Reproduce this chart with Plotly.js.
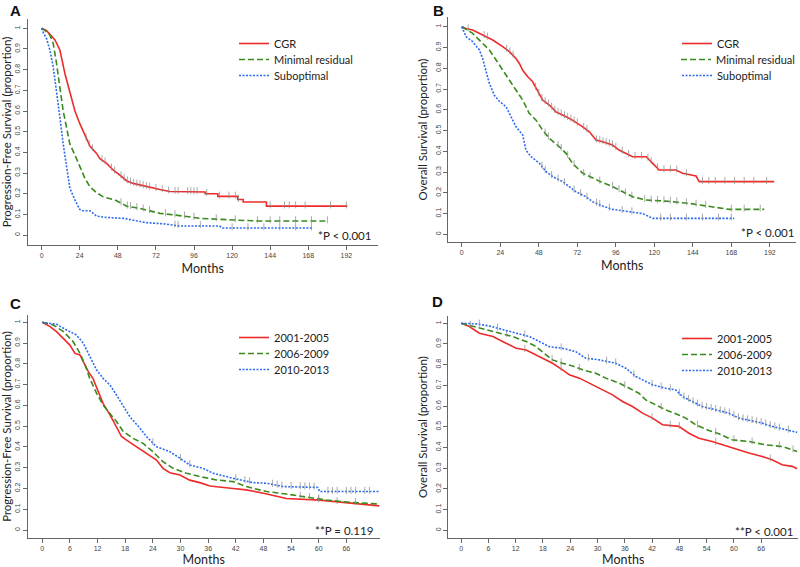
<!DOCTYPE html>
<html>
<head>
<meta charset="utf-8">
<script src="https://cdn.plot.ly/plotly-3.0.1.min.js"></script>
<style>html,body{margin:0;padding:0;background:#fff;}#chart{width:800px;height:567px;}</style>
</head>
<body>
<div id="chart"></div>
<script>
// ---------- Panel A: Progression-free survival by residual disease ----------
const a_cgr_t = [0, 3, 8.4, 11.5, 14.7, 16.8, 18.9, 21, 24, 27.3, 30.4, 34.6, 36.7, 41, 45, 49.3, 53.5, 57.7, 66, 74.5, 80.8, 95.5, 103, 103, 111, 111, 123.5, 123.5, 127, 127, 141.6, 141.6, 192.6];
const a_cgr_s = [1, 0.99, 0.944, 0.895, 0.78, 0.72, 0.65, 0.60, 0.54, 0.48, 0.43, 0.395, 0.37, 0.347, 0.315, 0.29, 0.263, 0.25, 0.234, 0.22, 0.211, 0.208, 0.208, 0.2, 0.2, 0.187, 0.187, 0.172, 0.172, 0.16, 0.16, 0.14, 0.14];
const a_min_t = [0, 2, 5.2, 7.3, 9.4, 11.5, 13.6, 15.7, 17.8, 21, 24, 27.3, 30.4, 34.6, 38.8, 46, 49.3, 53.5, 62, 70, 74.5, 87, 99.7, 120.6, 137, 180];
const a_min_s = [1, 0.99, 0.968, 0.927, 0.83, 0.72, 0.60, 0.52, 0.44, 0.387, 0.33, 0.274, 0.234, 0.205, 0.185, 0.17, 0.158, 0.14, 0.129, 0.113, 0.105, 0.094, 0.081, 0.073, 0.068, 0.068];
const a_sub_t = [0, 1, 3.1, 5.2, 7.3, 9.4, 11.5, 13.6, 15.7, 17.8, 21, 24, 26, 30.4, 34.6, 41, 51.4, 57.7, 66, 78.7, 87, 112, 114, 171];
const a_sub_s = [1, 0.98, 0.95, 0.895, 0.815, 0.70, 0.57, 0.44, 0.33, 0.226, 0.17, 0.124, 0.118, 0.118, 0.092, 0.085, 0.081, 0.073, 0.06, 0.053, 0.044, 0.044, 0.034, 0.034];
const a_cgr_cens = [28, 30, 32, 38, 40, 44, 46, 50, 52, 54, 56, 58, 60, 62, 64, 66, 68, 72, 76, 80, 84, 86, 92, 94, 96, 98, 104, 112, 118, 122, 124, 144, 153, 156, 160, 166, 182, 192];
const a_min_cens = [50, 54, 56, 60, 64, 68, 78, 84, 90, 96, 110, 122, 136, 144, 150, 160, 170, 180];
const a_sub_cens = [84, 86, 100, 120, 130, 140, 150, 160, 170];

// ---------- Panel B: Overall survival by residual disease ----------
const b_cgr_t = [0, 3, 6.8, 13, 19.3, 25.5, 29.7, 33.8, 35.9, 38, 41, 44.2, 47.3, 50.4, 54.6, 58.7, 62.9, 69, 75.4, 79.5, 83.7, 87.8, 94, 98, 106.5, 115, 119, 123, 133.5, 137.6, 146, 148, 194.7];
const b_cgr_s = [1, 0.99, 0.984, 0.96, 0.936, 0.904, 0.88, 0.847, 0.823, 0.79, 0.76, 0.735, 0.687, 0.647, 0.623, 0.59, 0.575, 0.55, 0.518, 0.494, 0.454, 0.446, 0.43, 0.406, 0.374, 0.374, 0.342, 0.31, 0.31, 0.294, 0.281, 0.254, 0.254];
const b_min_t = [0, 6.8, 13, 17.2, 21.4, 25.5, 29.7, 33.8, 38, 42, 46.3, 50.4, 54.6, 60.8, 65, 69, 75.4, 81.6, 87.8, 94, 100, 106.5, 114.8, 127, 141.8, 156, 166.7, 188.5];
const b_min_s = [1, 0.968, 0.92, 0.888, 0.84, 0.79, 0.743, 0.695, 0.647, 0.583, 0.55, 0.502, 0.462, 0.422, 0.39, 0.342, 0.294, 0.27, 0.249, 0.23, 0.205, 0.181, 0.165, 0.16, 0.149, 0.133, 0.12, 0.12];
const b_sub_t = [0, 2.7, 6.8, 11, 13, 15, 17.2, 20.3, 23.5, 27.6, 30.7, 33.8, 38, 40, 43.2, 48.4, 52.5, 56.7, 62.9, 67, 71.2, 77.4, 81.6, 87.8, 94, 112.7, 119, 169.8];
const b_sub_s = [1, 0.952, 0.928, 0.888, 0.847, 0.79, 0.727, 0.67, 0.64, 0.615, 0.567, 0.518, 0.478, 0.406, 0.374, 0.342, 0.302, 0.278, 0.254, 0.23, 0.205, 0.181, 0.157, 0.136, 0.12, 0.1, 0.077, 0.077];
const b_cgr_cens = [4, 14, 16, 28, 30, 32, 46, 48, 50, 52, 54, 56, 58, 60, 62, 64, 66, 68, 70, 72, 76, 78, 84, 86, 88, 90, 92, 94, 96, 100, 104, 108, 112, 116, 118, 122, 126, 130, 134, 140, 150, 154, 158, 164, 170, 176, 182, 190];
const b_min_cens = [52, 54, 60, 62, 66, 70, 76, 80, 86, 94, 98, 102, 106, 114, 118, 122, 126, 130, 134, 140, 146, 152, 168, 176, 186];
const b_sub_cens = [50, 52, 56, 60, 64, 70, 74, 78, 84, 86, 92, 100, 106, 124, 130, 140, 150, 160, 168];

// ---------- Panel C: Progression-free survival by period ----------
const c_p1_t = [0, 1.7, 3.1, 4.6, 6, 7.1, 8.2, 8.9, 10, 11, 12.1, 13.2, 14.7, 16.1, 17.2, 18.3, 20.5, 22.6, 24.8, 26.2, 27.7, 29.9, 32, 34.2, 36.4, 41.4, 44.3, 48, 50.8, 53, 60.2, 63.8, 67.4, 73.2];
const c_p1_s = [1, 0.979, 0.955, 0.923, 0.89, 0.85, 0.843, 0.81, 0.762, 0.73, 0.674, 0.61, 0.554, 0.498, 0.45, 0.433, 0.401, 0.37, 0.337, 0.297, 0.276, 0.265, 0.24, 0.228, 0.212, 0.2, 0.193, 0.177, 0.164, 0.152, 0.144, 0.136, 0.128, 0.116];
const c_p2_t = [0, 2.4, 4.6, 6.7, 8.2, 9.3, 10.3, 11.8, 13.2, 14.7, 16.1, 17.6, 19.7, 21.9, 24, 26.2, 28.4, 31.3, 34.2, 37.8, 41.4, 44.3, 48.7, 53, 57.3, 61.7, 67.4, 73.2];
const c_p2_s = [1, 0.987, 0.955, 0.907, 0.85, 0.795, 0.73, 0.658, 0.602, 0.562, 0.522, 0.474, 0.441, 0.417, 0.377, 0.329, 0.297, 0.273, 0.257, 0.241, 0.233, 0.209, 0.185, 0.173, 0.157, 0.144, 0.132, 0.125];
const c_p3_t = [0, 3.1, 5.3, 7.4, 8.9, 10.3, 11.8, 13.2, 14.7, 16.1, 17.6, 19, 21.2, 22.6, 24.8, 27.7, 29.9, 32, 34.9, 37.1, 41.4, 45.8, 48.7, 52.3, 59.8, 60.2, 73.2];
const c_p3_s = [1, 0.99, 0.963, 0.939, 0.9, 0.835, 0.77, 0.73, 0.698, 0.65, 0.594, 0.546, 0.49, 0.45, 0.401, 0.377, 0.345, 0.313, 0.297, 0.273, 0.249, 0.228, 0.225, 0.209, 0.205, 0.185, 0.185];
const c_p1_cens = [60, 64];
const c_p2_cens = [56, 58, 60, 68];
const c_p3_cens = [24, 30, 32, 42, 44, 45, 50, 51, 52, 54, 56, 57, 58, 59, 62, 63, 64, 66, 67, 68, 70, 71];

// ---------- Panel D: Overall survival by period ----------
const d_p1_t = [0, 1.8, 4, 7, 9.1, 12.1, 14.3, 17.2, 20.1, 22.3, 23.8, 26, 28.9, 31.1, 33.3, 35.5, 37.7, 39.9, 42.1, 44.3, 47.9, 50.1, 52.3, 55.2, 57.4, 59.6, 61.1, 63.3, 66.2, 68.4, 70.6, 72.8, 73.9];
const d_p1_s = [1, 0.984, 0.952, 0.936, 0.912, 0.879, 0.871, 0.839, 0.807, 0.775, 0.751, 0.735, 0.703, 0.678, 0.654, 0.622, 0.598, 0.566, 0.542, 0.51, 0.502, 0.469, 0.445, 0.429, 0.413, 0.397, 0.386, 0.373, 0.357, 0.341, 0.317, 0.309, 0.297];
const d_p2_t = [0, 3.3, 6.2, 8.4, 11.3, 14.3, 16.5, 18.7, 20.1, 22.3, 24.5, 26.7, 29.6, 31.8, 34.8, 37, 39.1, 40.6, 42.8, 45, 47.2, 49.4, 51.6, 54.5, 56.7, 59.6, 63.3, 66.9, 70.6, 73.9];
const d_p2_s = [1, 0.981, 0.968, 0.952, 0.936, 0.912, 0.887, 0.847, 0.823, 0.807, 0.794, 0.775, 0.759, 0.735, 0.711, 0.686, 0.662, 0.63, 0.606, 0.582, 0.563, 0.542, 0.51, 0.482, 0.466, 0.437, 0.429, 0.413, 0.405, 0.381];
const d_p3_t = [0, 3.3, 6.2, 9.1, 12.1, 15, 17.2, 19.4, 22.3, 25.2, 27.4, 30.4, 34, 36.2, 38.4, 40.6, 42.1, 45, 47.2, 48.7, 50.8, 53, 56, 58.9, 61.1, 63.3, 66.2, 68.4, 70.6, 73.9];
const d_p3_s = [1, 0.997, 0.987, 0.968, 0.952, 0.936, 0.912, 0.887, 0.879, 0.863, 0.831, 0.823, 0.807, 0.783, 0.743, 0.719, 0.703, 0.686, 0.678, 0.646, 0.622, 0.598, 0.582, 0.566, 0.542, 0.531, 0.518, 0.502, 0.489, 0.473];
const d_p1_cens = [14, 22, 42, 46, 48, 56, 68];
const d_p2_cens = [2, 10, 20, 22, 26, 36, 44, 52, 56, 60, 64, 70, 73];
const d_p3_cens = [4, 8, 14, 22, 28, 32, 34, 38, 42, 44, 46, 48, 49, 50, 51, 52, 53, 54, 55, 56, 57, 58, 59, 60, 61, 62, 63, 64, 65, 66, 67, 68, 69, 70, 72];

// ---------- labels ----------
const groupsResidual = ["CGR", "Minimal residual", "Suboptimal"];
const groupsPeriod = ["2001-2005", "2006-2009", "2010-2013"];
const ticksLong = [0, 24, 48, 72, 96, 120, 144, 168, 192];
const ticksShort = [0, 6, 12, 18, 24, 30, 36, 42, 48, 54, 60, 66];
const yTicks = [0, 0.1, 0.2, 0.3, 0.4, 0.5, 0.6, 0.7, 0.8, 0.9, 1];
const yTickText = ["0", "0.1", "0.2", "0.3", "0.4", "0.5", "0.6", "0.7", "0.8", "0.9", "1"];
const panelLabels = ["A", "B", "C", "D"];
const pValues = ["*P < 0.001", "*P < 0.001", "**P = 0.119", "**P < 0.001"];
const yTitles = ["Progression-Free Survival (proportion)", "Overall Survival (proportion)", "Progression-Free Survival (proportion)", "Overall Survival (proportion)"];

// ---------- styling ----------
const COLORS = ["#ee2b2b", "#3a8a1c", "#2b6bf0"];
const DASHES = ["solid", "6px,3px", "2px,1.5px"];
const FONT = "Lato, 'Open Sans', sans-serif";
const W = 800, H = 567;
function px(x) { return x / W; }
function py(y) { return 1 - y / H; }

function interp(t, s, x) {
  for (let i = 1; i < t.length; i++) {
    if (x <= t[i]) {
      if (t[i] === t[i - 1]) return s[i];
      const f = (x - t[i - 1]) / (t[i] - t[i - 1]);
      return s[i - 1] + f * (s[i] - s[i - 1]);
    }
  }
  return s[s.length - 1];
}

const traces = [];
const legends = {};
let legendCount = 0;
// legend anchor per panel: [left px, first-row top px]
const legendAnchor = [[234, 29], [677, 29], [234, 323], [677, 324]];
const ROW = 16;

function addCurves(panel, names, curves) {
  const ax = panel === 1 ? "" : String(panel);
  curves.forEach((c, i) => {
    legendCount++;
    const lid = legendCount === 1 ? "legend" : "legend" + legendCount;
    const [lx, ly] = legendAnchor[panel - 1];
    legends[lid] = {
      x: px(lx), y: py(ly + i * ROW), xanchor: "left", yanchor: "top", bgcolor: "rgba(0,0,0,0)",
      font: { family: FONT, size: 11, color: "#222" }, itemwidth: 30
    };
    traces.push({
      type: "scatter", mode: "lines", x: c.t, y: c.s, name: names[i],
      xaxis: "x" + ax, yaxis: "y" + ax, legend: lid,
      line: { color: COLORS[i], width: 1.6, dash: DASHES[i] },
      hoverinfo: "skip"
    });
    traces.push({
      type: "scatter", mode: "markers", x: c.c, y: c.c.map(v => interp(c.t, c.s, v) + 0.006),
      xaxis: "x" + ax, yaxis: "y" + ax, showlegend: false,
      marker: { symbol: "line-ns", size: 5, line: { color: "rgba(140,140,140,0.75)", width: 1 } },
      hoverinfo: "skip"
    });
  });
}
addCurves(1, groupsResidual, [
  { t: a_cgr_t, s: a_cgr_s, c: a_cgr_cens },
  { t: a_min_t, s: a_min_s, c: a_min_cens },
  { t: a_sub_t, s: a_sub_s, c: a_sub_cens }]);
addCurves(2, groupsResidual, [
  { t: b_cgr_t, s: b_cgr_s, c: b_cgr_cens },
  { t: b_min_t, s: b_min_s, c: b_min_cens },
  { t: b_sub_t, s: b_sub_s, c: b_sub_cens }]);
addCurves(3, groupsPeriod, [
  { t: c_p1_t, s: c_p1_s, c: c_p1_cens },
  { t: c_p2_t, s: c_p2_s, c: c_p2_cens },
  { t: c_p3_t, s: c_p3_s, c: c_p3_cens }]);
addCurves(4, groupsPeriod, [
  { t: d_p1_t, s: d_p1_s, c: d_p1_cens },
  { t: d_p2_t, s: d_p2_s, c: d_p2_cens },
  { t: d_p3_t, s: d_p3_s, c: d_p3_cens }]);

function xAxis(anchor, domain, range, ticks) {
  return {
    anchor: anchor, domain: domain, range: range, tickmode: "array", tickvals: ticks, ticktext: ticks.map(String),
    showline: true, linecolor: "#666", linewidth: 1, ticks: "outside", ticklen: 4, tickcolor: "#666",
    showgrid: false, zeroline: false, tickfont: { family: "Liberation Sans, Arial", size: 7, color: "#444" },
    title: { text: "Months", font: { family: FONT, size: 12.5, color: "#222" }, standoff: 5 }, fixedrange: true
  };
}
function yAxis(anchor, domain, range, title) {
  return {
    anchor: anchor, domain: domain, range: range, tickmode: "array", tickvals: yTicks, ticktext: yTickText, tickangle: -90,
    showline: true, linecolor: "#666", linewidth: 1, ticks: "outside", ticklen: 4, tickcolor: "#666",
    showgrid: false, zeroline: false, tickfont: { family: "Liberation Sans, Arial", size: 7, color: "#444" },
    title: { text: title, font: { family: FONT, size: 11.5, color: "#222" }, standoff: 4 }, fixedrange: true
  };
}

const annotations = [];
const letterPos = [[8, 10], [432, 10], [8, 303], [431, 301]];
panelLabels.forEach((l, i) => annotations.push({
  xref: "paper", yref: "paper", x: px(letterPos[i][0]), y: py(letterPos[i][1]), xanchor: "left", yanchor: "middle",
  text: "<b>" + l + "</b>", showarrow: false, font: { family: "Liberation Sans, Arial", size: 15, color: "#111" }
}));
const pPos = [[345, 235], [768, 232], [344, 530], [765, 531]];
pValues.forEach((p, i) => annotations.push({
  xref: "paper", yref: "paper", x: px(pPos[i][0]), y: py(pPos[i][1]), xanchor: "center", yanchor: "middle",
  text: p, showarrow: false, font: { family: FONT, size: 11.5, color: "#222" }
}));

const layout = Object.assign({
  width: W, height: H, margin: { l: 0, r: 0, t: 0, b: 0 }, paper_bgcolor: "#fff", plot_bgcolor: "#fff",
  showlegend: true,
  xaxis: xAxis("y", [px(28), px(378)], [-8.6, 211.6], ticksLong),
  yaxis: yAxis("x", [py(245), py(19)], [-0.048, 1.045], yTitles[0]),
  xaxis2: xAxis("y2", [px(449), px(797)], [-8.3, 208.3], ticksLong),
  yaxis2: yAxis("x2", [py(242), py(17)], [-0.037, 1.047], yTitles[1]),
  xaxis3: xAxis("y3", [px(28), px(380)], [-3.1, 73.2], ticksShort),
  yaxis3: yAxis("x3", [py(538), py(315)], [-0.0385, 1.035], yTitles[2]),
  xaxis4: xAxis("y4", [px(449), px(799)], [-2.8, 74.1], ticksShort),
  yaxis4: yAxis("x4", [py(538), py(316)], [-0.037, 1.035], yTitles[3]),
  annotations: annotations
}, legends);

Plotly.newPlot("chart", traces, layout, { staticPlot: true, displayModeBar: false });
</script>
</body>
</html>
